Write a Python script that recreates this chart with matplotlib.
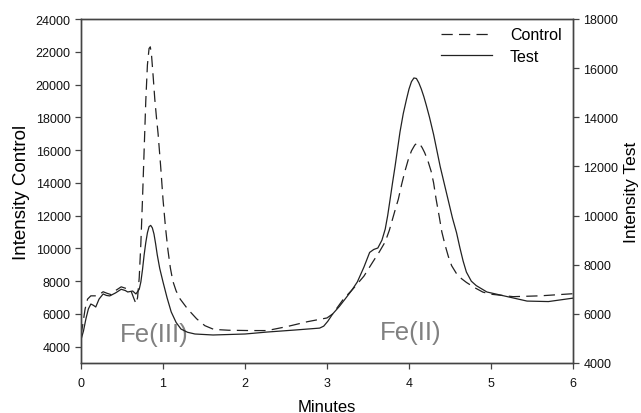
import matplotlib
matplotlib.use("Agg")
import matplotlib.pyplot as plt

plt.rcParams["font.family"] = ["Liberation Sans", "DejaVu Sans"]

# Control trace (left axis)
t_control = [0.00, 0.02, 0.05, 0.08, 0.12, 0.20, 0.27, 0.32, 0.37, 0.43, 0.49, 0.55,
             0.61, 0.64, 0.67, 0.69, 0.71, 0.73, 0.75, 0.77, 0.79, 0.81, 0.83, 0.845,
             0.86, 0.88, 0.90, 0.92, 0.94, 0.97, 1.00, 1.03, 1.06, 1.09, 1.12, 1.16,
             1.21, 1.30, 1.41, 1.51, 1.62, 1.80, 2.06, 2.27, 2.51, 2.76, 3.00, 3.07,
             3.20, 3.32, 3.45, 3.56, 3.64, 3.71, 3.76, 3.80, 3.84, 3.87, 3.91, 3.95,
             3.99, 4.03, 4.07, 4.10, 4.13, 4.16, 4.19, 4.23, 4.27, 4.30, 4.33, 4.37,
             4.40, 4.44, 4.48, 4.52, 4.58, 4.64, 4.70, 4.80, 4.90, 5.00, 5.27, 5.60,
             6.00]
control = [4700, 5300, 6300, 6900, 7100, 7100, 7350, 7250, 7170, 7450, 7650, 7550,
           7400, 7000, 6620, 7000, 8200, 10300, 13000, 16000, 19000, 21200, 22200, 22300,
           21800, 20500, 19100, 18000, 17000, 15100, 13000, 11300, 9900, 8800, 8000, 7400,
           6900, 6300, 5700, 5280, 5050, 5000, 4980, 4980, 5220, 5520, 5750, 6000,
           6900, 7540, 8300, 9180, 9800, 10400, 11100, 11800, 12500, 13000, 13900, 14700,
           15400, 15950, 16300, 16440, 16380, 16150, 15850, 15350, 14700, 14000, 13020, 11900,
           11010, 10200, 9500, 8940, 8450, 8150, 7920, 7600, 7330, 7200, 7050, 7100,
           7230]

# Test trace (right axis)
t_test = [0.00, 0.03, 0.06, 0.09, 0.12, 0.15, 0.18, 0.22, 0.27, 0.31, 0.35, 0.42,
          0.49, 0.54, 0.57, 0.63, 0.67, 0.71, 0.73, 0.75, 0.77, 0.79, 0.81, 0.83,
          0.85, 0.87, 0.89, 0.91, 0.93, 0.96, 1.00, 1.05, 1.10, 1.16, 1.22, 1.30,
          1.39, 1.61, 2.00, 2.27, 2.60, 2.91, 2.96, 3.01, 3.07, 3.15, 3.22, 3.30,
          3.37, 3.45, 3.52, 3.57, 3.62, 3.67, 3.71, 3.74, 3.77, 3.80, 3.83, 3.86,
          3.89, 3.93, 3.97, 4.00, 4.03, 4.06, 4.09, 4.12, 4.15, 4.18, 4.21, 4.25,
          4.30, 4.34, 4.38, 4.43, 4.48, 4.53, 4.58, 4.62, 4.66, 4.70, 4.76, 4.82,
          4.95, 5.20, 5.44, 5.70, 6.00]
test = [4950, 5300, 5800, 6200, 6400, 6350, 6280, 6600, 6810, 6750, 6730, 6850,
        7000, 6950, 6890, 6930, 6810, 7000, 7300, 7800, 8400, 8900, 9300, 9550,
        9600, 9500, 9250, 8850, 8400, 7850, 7300, 6650, 6080, 5650, 5380, 5250,
        5180, 5140, 5180, 5260, 5340, 5420, 5500, 5700, 6000, 6300, 6600, 6950,
        7300, 7900, 8500, 8620, 8680, 9000, 9450, 10000, 10670, 11350, 12000, 12700,
        13400, 14150, 14740, 15150, 15450, 15600, 15580, 15400, 15150, 14850, 14500, 14000,
        13300, 12650, 12000, 11300, 10600, 9900, 9300, 8700, 8150, 7700, 7330, 7150,
        6890, 6700, 6520, 6500, 6640]

x_ticks = [0, 1, 2, 3, 4, 5, 6]
left_ticks = list(range(4000, 24001, 2000))
right_ticks = list(range(4000, 18001, 2000))

fig = plt.figure(figsize=(6.41, 4.14), dpi=100)
ax = fig.add_axes([81 / 641, 50 / 414, 492 / 641, 344 / 414])
ax2 = ax.twinx()

spine_col = "#444444"
line_col = "#222222"

l1, = ax.plot(t_control, control, color=line_col, lw=0.9, dashes=(9, 5), label="Control")
l2, = ax2.plot(t_test, test, color=line_col, lw=0.9, label="Test")

ax.set_xlim(0, 6)
ax.set_ylim(3000, 24000)
ax2.set_ylim(4000, 18000)
ax.set_xticks(x_ticks)
ax.set_yticks(left_ticks)
ax2.set_yticks(right_ticks)

for a in (ax, ax2):
    for s in a.spines.values():
        s.set_color(spine_col)
        s.set_linewidth(1.0)
    a.tick_params(direction="out", length=4, width=0.9, color=spine_col,
                  labelsize=9, labelcolor="#111111")
ax.tick_params(axis="x", pad=6)

ax.set_xlabel("Minutes", fontsize=12, labelpad=7)
ax.set_ylabel("Intensity Control", fontsize=13.5, labelpad=4)
ax2.set_ylabel("Intensity Test", fontsize=12.5, labelpad=4)

ax.text(0.48, 4800, "Fe(III)", fontsize=18.5, color="#808080", va="center", ha="left")
ax.text(3.65, 4900, "Fe(II)", fontsize=18.5, color="#808080", va="center", ha="left")

leg = ax2.legend(handles=[l1, l2], loc="upper left", bbox_to_anchor=(0.732, 0.976),
                 frameon=False, fontsize=11.5, handlelength=3.2, handletextpad=1.1,
                 labelspacing=0.4, borderpad=0, borderaxespad=0)

fig.savefig("out.png", dpi=100)
